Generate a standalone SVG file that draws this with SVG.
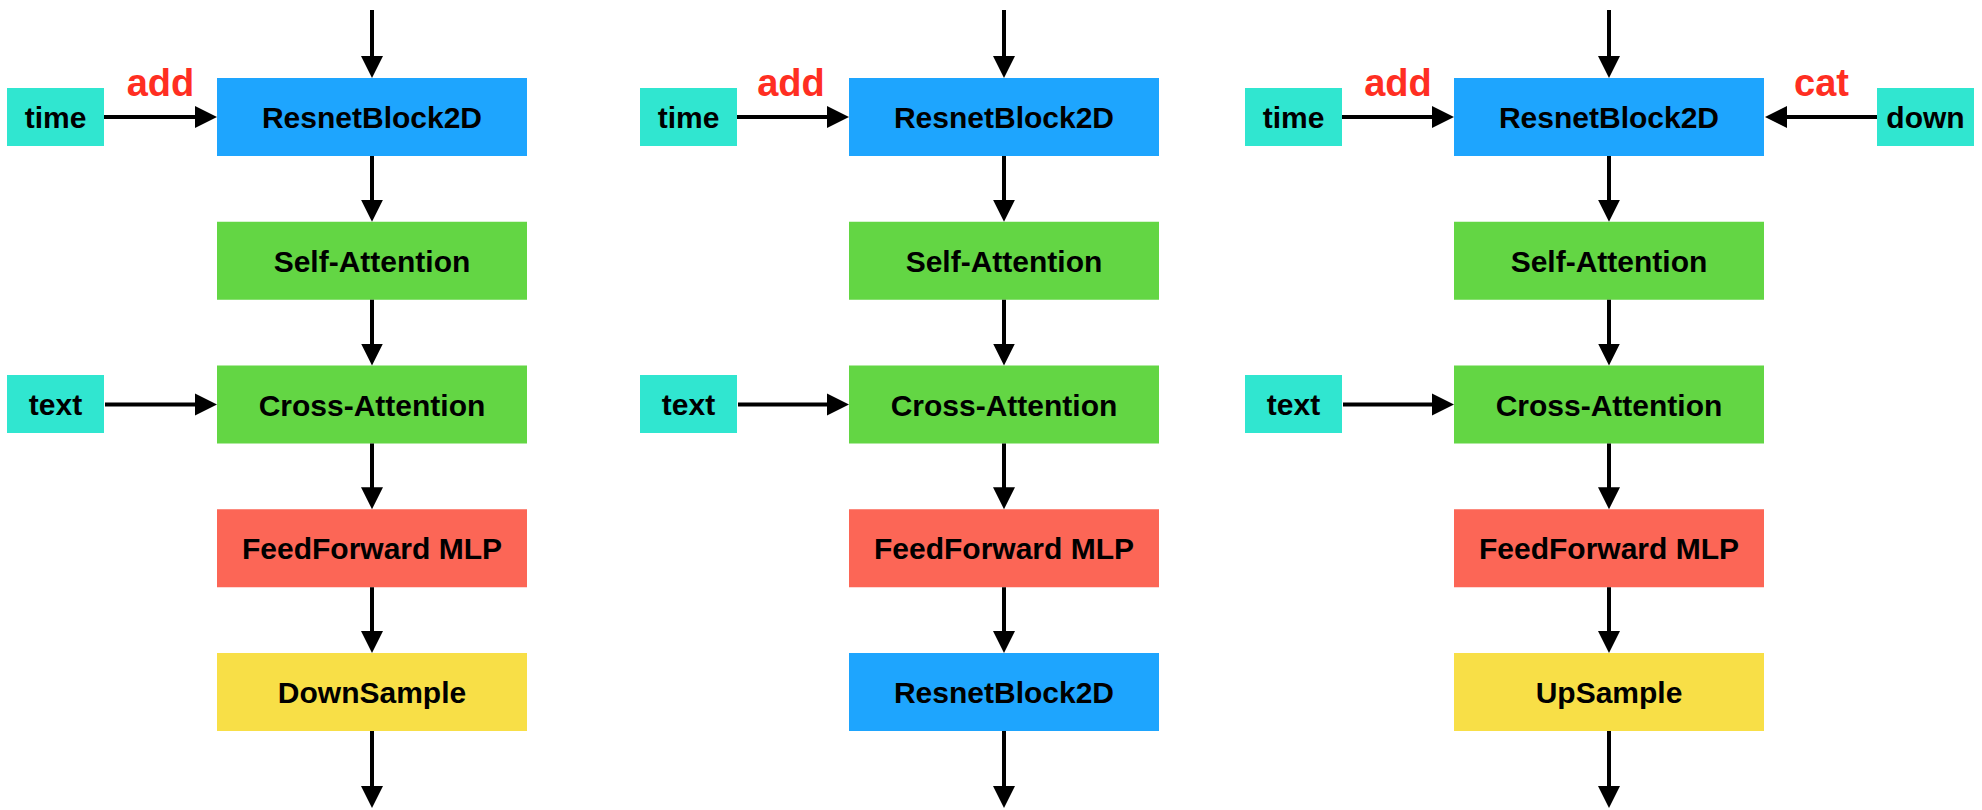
<svg xmlns="http://www.w3.org/2000/svg" width="1982" height="810" viewBox="0 0 1982 810">
<defs>
<style>
.lbl{font-family:"Liberation Sans",Arial,Helvetica,sans-serif;font-weight:bold;font-size:30px;fill:#000;text-anchor:middle}
.op{font-family:"Liberation Sans",Arial,Helvetica,sans-serif;font-weight:bold;font-size:38px;fill:#FF2E22;text-anchor:middle}
.blue{fill:#1EA5FE}
.green{fill:#63D644}
.red{fill:#FC6656}
.yellow{fill:#F8DF47}
.cyan{fill:#30E6D0}
.conn line{stroke:#000;stroke-width:4;fill:none;marker-end:url(#ah)}
</style>
<marker id="ah" markerUnits="userSpaceOnUse" markerWidth="24" markerHeight="24" refX="11" refY="12" orient="auto">
<path d="M0,1 L22,12 L0,23 z" fill="#000"/>
</marker>
</defs>
<rect width="1982" height="810" fill="#fff"/>

<!-- Column 1 -->
<g id="c1-resnet"><rect class="blue" x="217" y="78" width="310" height="78"/><text class="lbl" x="372" y="128">ResnetBlock2D</text></g>
<g id="c1-self"><rect class="green" x="217" y="221.75" width="310" height="78"/><text class="lbl" x="372" y="271.75">Self-Attention</text></g>
<g id="c1-cross"><rect class="green" x="217" y="365.5" width="310" height="78"/><text class="lbl" x="372" y="415.5">Cross-Attention</text></g>
<g id="c1-ff"><rect class="red" x="217" y="509.25" width="310" height="78"/><text class="lbl" x="372" y="559.25">FeedForward MLP</text></g>
<g id="c1-down"><rect class="yellow" x="217" y="653" width="310" height="78"/><text class="lbl" x="372" y="703">DownSample</text></g>
<g id="c1-time"><rect class="cyan" x="7" y="88" width="97" height="58"/><text class="lbl" x="55.5" y="128">time</text></g>
<g id="c1-text"><rect class="cyan" x="7" y="375" width="97" height="58"/><text class="lbl" x="55.5" y="415">text</text></g>
<text class="op" x="160.5" y="96">add</text>

<!-- Column 2 -->
<g id="c2-resnet"><rect class="blue" x="849" y="78" width="310" height="78"/><text class="lbl" x="1004" y="128">ResnetBlock2D</text></g>
<g id="c2-self"><rect class="green" x="849" y="221.75" width="310" height="78"/><text class="lbl" x="1004" y="271.75">Self-Attention</text></g>
<g id="c2-cross"><rect class="green" x="849" y="365.5" width="310" height="78"/><text class="lbl" x="1004" y="415.5">Cross-Attention</text></g>
<g id="c2-ff"><rect class="red" x="849" y="509.25" width="310" height="78"/><text class="lbl" x="1004" y="559.25">FeedForward MLP</text></g>
<g id="c2-resnet2"><rect class="blue" x="849" y="653" width="310" height="78"/><text class="lbl" x="1004" y="703">ResnetBlock2D</text></g>
<g id="c2-time"><rect class="cyan" x="640" y="88" width="97" height="58"/><text class="lbl" x="688.5" y="128">time</text></g>
<g id="c2-text"><rect class="cyan" x="640" y="375" width="97" height="58"/><text class="lbl" x="688.5" y="415">text</text></g>
<text class="op" x="791" y="96">add</text>

<!-- Column 3 -->
<g id="c3-resnet"><rect class="blue" x="1454" y="78" width="310" height="78"/><text class="lbl" x="1609" y="128">ResnetBlock2D</text></g>
<g id="c3-self"><rect class="green" x="1454" y="221.75" width="310" height="78"/><text class="lbl" x="1609" y="271.75">Self-Attention</text></g>
<g id="c3-cross"><rect class="green" x="1454" y="365.5" width="310" height="78"/><text class="lbl" x="1609" y="415.5">Cross-Attention</text></g>
<g id="c3-ff"><rect class="red" x="1454" y="509.25" width="310" height="78"/><text class="lbl" x="1609" y="559.25">FeedForward MLP</text></g>
<g id="c3-up"><rect class="yellow" x="1454" y="653" width="310" height="78"/><text class="lbl" x="1609" y="703">UpSample</text></g>
<g id="c3-time"><rect class="cyan" x="1245" y="88" width="97" height="58"/><text class="lbl" x="1293.5" y="128">time</text></g>
<g id="c3-text"><rect class="cyan" x="1245" y="375" width="97" height="58"/><text class="lbl" x="1293.5" y="415">text</text></g>
<g id="c3-downin"><rect class="cyan" x="1877" y="88" width="97" height="58"/><text class="lbl" x="1925.5" y="128">down</text></g>
<text class="op" x="1398" y="96">add</text>
<text class="op" x="1821.5" y="96">cat</text>

<g id="connectors" class="conn">
<line x1="372" y1="10" x2="372" y2="67"/>
<line x1="372" y1="156" x2="372" y2="210.75"/>
<line x1="372" y1="299.75" x2="372" y2="354.5"/>
<line x1="372" y1="443.5" x2="372" y2="498.25"/>
<line x1="372" y1="587.25" x2="372" y2="642"/>
<line x1="372" y1="731" x2="372" y2="797"/>
<line x1="104" y1="117" x2="206" y2="117"/>
<line x1="105" y1="404.5" x2="206" y2="404.5"/>

<line x1="1004" y1="10" x2="1004" y2="67"/>
<line x1="1004" y1="156" x2="1004" y2="210.75"/>
<line x1="1004" y1="299.75" x2="1004" y2="354.5"/>
<line x1="1004" y1="443.5" x2="1004" y2="498.25"/>
<line x1="1004" y1="587.25" x2="1004" y2="642"/>
<line x1="1004" y1="731" x2="1004" y2="797"/>
<line x1="737" y1="117" x2="838" y2="117"/>
<line x1="738" y1="404.5" x2="838" y2="404.5"/>

<line x1="1609" y1="10" x2="1609" y2="67"/>
<line x1="1609" y1="156" x2="1609" y2="210.75"/>
<line x1="1609" y1="299.75" x2="1609" y2="354.5"/>
<line x1="1609" y1="443.5" x2="1609" y2="498.25"/>
<line x1="1609" y1="587.25" x2="1609" y2="642"/>
<line x1="1609" y1="731" x2="1609" y2="797"/>
<line x1="1342" y1="117" x2="1443" y2="117"/>
<line x1="1343" y1="404.5" x2="1443" y2="404.5"/>
<line x1="1877" y1="117" x2="1776" y2="117"/>
</g>
</svg>
